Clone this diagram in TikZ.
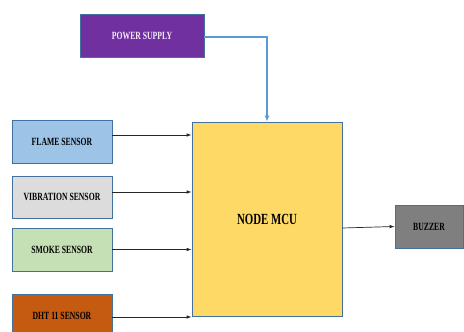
\documentclass[tikz,border=0pt]{standalone}
\usepackage{fontspec}
\usepackage{xcolor}
\usetikzlibrary{arrows.meta, positioning}
\newfontfamily\boxfont{Liberation Serif}[FakeStretch=0.7]
\definecolor{outl}{HTML}{41719C}
\definecolor{psufill}{HTML}{7030A0}
\definecolor{flamefill}{HTML}{9DC3E6}
\definecolor{vibfill}{HTML}{DCDCDC}
\definecolor{smokefill}{HTML}{C5E0B4}
\definecolor{dhtfill}{HTML}{C55A11}
\definecolor{mcufill}{HTML}{FFD966}
\definecolor{buzfill}{HTML}{7F7F7F}
\definecolor{pwrline}{HTML}{5B9BD5}
\tikzset{
  blk/.style={draw=outl, line width=0.7pt, inner sep=0pt,
    minimum width=100, minimum height=43,
    font=\boxfont\bfseries\fontsize{11}{13}\selectfont},
  sig/.style={-{Latex[length=5pt,width=3.5pt]}, line width=0.7pt, black!85},
}
\begin{document}
\begin{tikzpicture}[x=1pt, y=-1pt]
\clip (0,0) rectangle (464,332);
% power
\node[blk, fill=psufill, text=white!92!violet, minimum width=124] (psu) at (142,35.5) {POWER SUPPLY};
% sensors
\node[blk, fill=flamefill] (flame) at (62,142) {FLAME SENSOR};
\node[blk, fill=vibfill, minimum height=42] (vib) at (62,197) {VIBRATION SENSOR};
\node[blk, fill=smokefill] (smoke) at (62,249.5) {SMOKE SENSOR};
\node[blk, fill=dhtfill] (dht) at (62,315.5) {DHT 11 SENSOR};
% controller and output
\node[blk, fill=mcufill, minimum width=150, minimum height=194,
  font=\boxfont\bfseries\fontsize{15.5}{17}\selectfont] (mcu) at (267,219) {NODE MCU};
\node[blk, fill=buzfill, minimum width=68] (buz) at (429,226.5) {BUZZER};
% connectors
\draw[-{Latex[length=6pt,width=5pt]}, line width=1.8pt, pwrline] ([yshift=-1.5]psu.east) -| (mcu.north);
\draw[sig] ([yshift=7]flame.east) -- ([yshift=7]flame.east -| mcu.west);
\draw[sig] ([yshift=5]vib.east) -- ([yshift=5]vib.east -| mcu.west);
\draw[sig] (smoke.east) -- (smoke.east -| mcu.west);
\draw[sig] ([yshift=-1.5]dht.east) -- ([yshift=-1.5]dht.east -| mcu.west);
\draw[sig] ([yshift=-1.5]buz.west -| mcu.east) -- (buz.west);
\end{tikzpicture}
\end{document}
